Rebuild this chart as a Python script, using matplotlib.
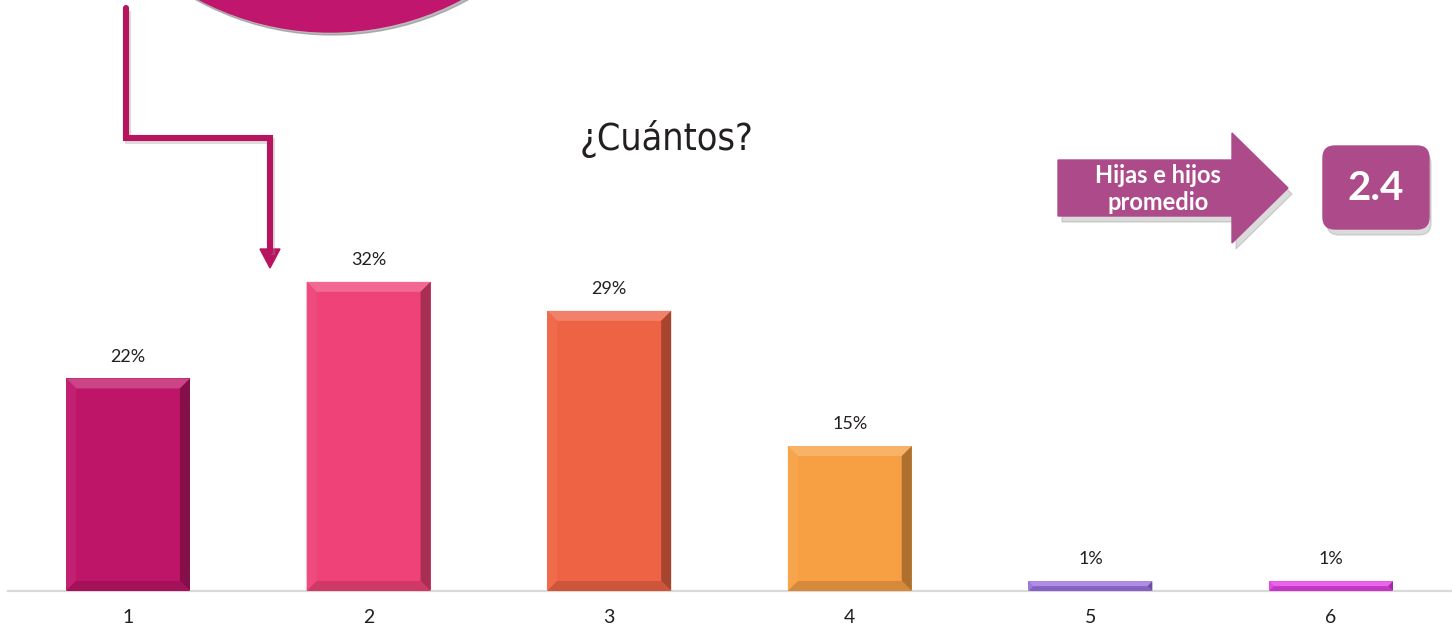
import numpy as np
import matplotlib
matplotlib.use("Agg")
import matplotlib.pyplot as plt
from matplotlib.patches import Polygon, Circle, FancyBboxPatch
from matplotlib.colors import to_rgb

# Distribución por número de hijas e hijos
categorias = ["1", "2", "3", "4", "5", "6"]
porcentajes = [22, 32, 29, 15, 1, 1]
colores = ["#BE1568", "#EF4278", "#EE6343", "#F7A043", "#9B72E0", "#E43FE4"]
promedio = 2.4

plt.rcParams["font.family"] = ["Lato", "DejaVu Sans"]
TEXTO = "#231F20"


def mezclar(color, otro, t):
    c = np.array(to_rgb(color))
    o = np.array(to_rgb(otro))
    return tuple(c * (1 - t) + o * t)


fig = plt.figure(figsize=(14.52, 6.29), dpi=100)
W, H = 1452, 629

# ejes principales: base en y=591 px, 0..40 %
ax = fig.add_axes([7.7 / W, 38 / H, 1443.6 / W, 386.4 / H])
x = np.arange(len(categorias))
ancho = 0.515
ax.set_xlim(-0.5, len(categorias) - 0.5)
ax.set_ylim(0, 40)

barras = ax.bar(x, porcentajes, width=ancho, color=colores, zorder=2)

# biselado de cada barra (profundidad en píxeles convertida a datos)
px_x = (1443.6 / len(categorias))
px_y = 386.4 / 40
for xi, h, c in zip(x, porcentajes, colores):
    d_px = min(10, h * px_y / 2)
    dx = d_px / px_x
    dy = d_px / px_y
    x0, x1 = xi - ancho / 2, xi + ancho / 2
    caras = [
        ([(x0, h), (x1, h), (x1 - dx, h - dy), (x0 + dx, h - dy)], mezclar(c, "white", 0.2)),
        ([(x0, 0), (x0, h), (x0 + dx, h - dy), (x0 + dx, dy)], mezclar(c, "white", 0.05)),
        ([(x1, 0), (x1, h), (x1 - dx, h - dy), (x1 - dx, dy)], mezclar(c, "black", 0.3)),
        ([(x0, 0), (x1, 0), (x1 - dx, dy), (x0 + dx, dy)], mezclar(c, "black", 0.14)),
    ]
    for pts, col in caras:
        ax.add_patch(Polygon(pts, closed=True, facecolor=col, edgecolor="none", zorder=3))
    ax.annotate(f"{h}%", (xi, h), xytext=(0, 10), textcoords="offset points",
                ha="center", va="bottom", fontsize=13, color=TEXTO)

for s in ["top", "right", "left"]:
    ax.spines[s].set_visible(False)
ax.spines["bottom"].set_color("#D9D9D9")
ax.spines["bottom"].set_linewidth(1.6)
ax.set_yticks([])
ax.set_xticks(x)
ax.set_xticklabels(categorias, fontsize=14, color=TEXTO)
ax.tick_params(axis="x", length=0, pad=13)
ax.patch.set_alpha(0)

# capa de decoración en píxeles
deco = fig.add_axes([0, 0, 1, 1], zorder=-1)
deco.set_xlim(0, W)
deco.set_ylim(H, 0)
deco.axis("off")

# círculo superior recortado
deco.add_patch(Circle((332, -246), 281, color="#8C8C8C", alpha=0.6))
deco.add_patch(Circle((330, -248), 280, color="#C0166E"))

# conector en escalón con punta de flecha
cx = [126, 126, 270, 270]
cy = [8, 138, 138, 252]
deco.plot(np.array(cx) + 2, np.array(cy) + 3, color="#999999", lw=4.4, alpha=0.35,
          solid_joinstyle="miter", solid_capstyle="butt")
deco.plot(cx, cy, color="#B8135F", lw=4.4, solid_joinstyle="miter", solid_capstyle="round")
deco.add_patch(Polygon([(260, 249), (280, 249), (270, 268)], color="#B8135F"))

# flecha de rótulo
flecha = [(1058, 160), (1232, 160), (1232, 133), (1288, 188), (1232, 243), (1232, 216), (1058, 216)]
deco.add_patch(Polygon([(px + 4, py + 6) for px, py in flecha], color="#888888", alpha=0.3))
deco.add_patch(Polygon(flecha, color="#AD4B8A"))
deco.text(1158, 189, "Hijas e hijos\npromedio", ha="center", va="center",
          fontsize=17, fontweight="bold", color="white", linespacing=1.2)

# caja con el promedio
deco.add_patch(FancyBboxPatch((1327, 152), 104, 83, boxstyle="round,pad=0,rounding_size=12",
                              color="#888888", alpha=0.3))
deco.add_patch(FancyBboxPatch((1323, 146), 106, 83, boxstyle="round,pad=0,rounding_size=12",
                              color="#AD4B8A"))
deco.text(1376, 189, f"{promedio}", ha="center", va="center",
          fontsize=29, fontweight="bold", color="white")

# título
fig.text(667 / W, 1 - 139 / H, "¿Cuántos?", ha="center", va="center", fontsize=27,
         color=TEXTO, family=["DejaVu Sans"], fontstretch="condensed")

fig.savefig("out.png", dpi=100)
